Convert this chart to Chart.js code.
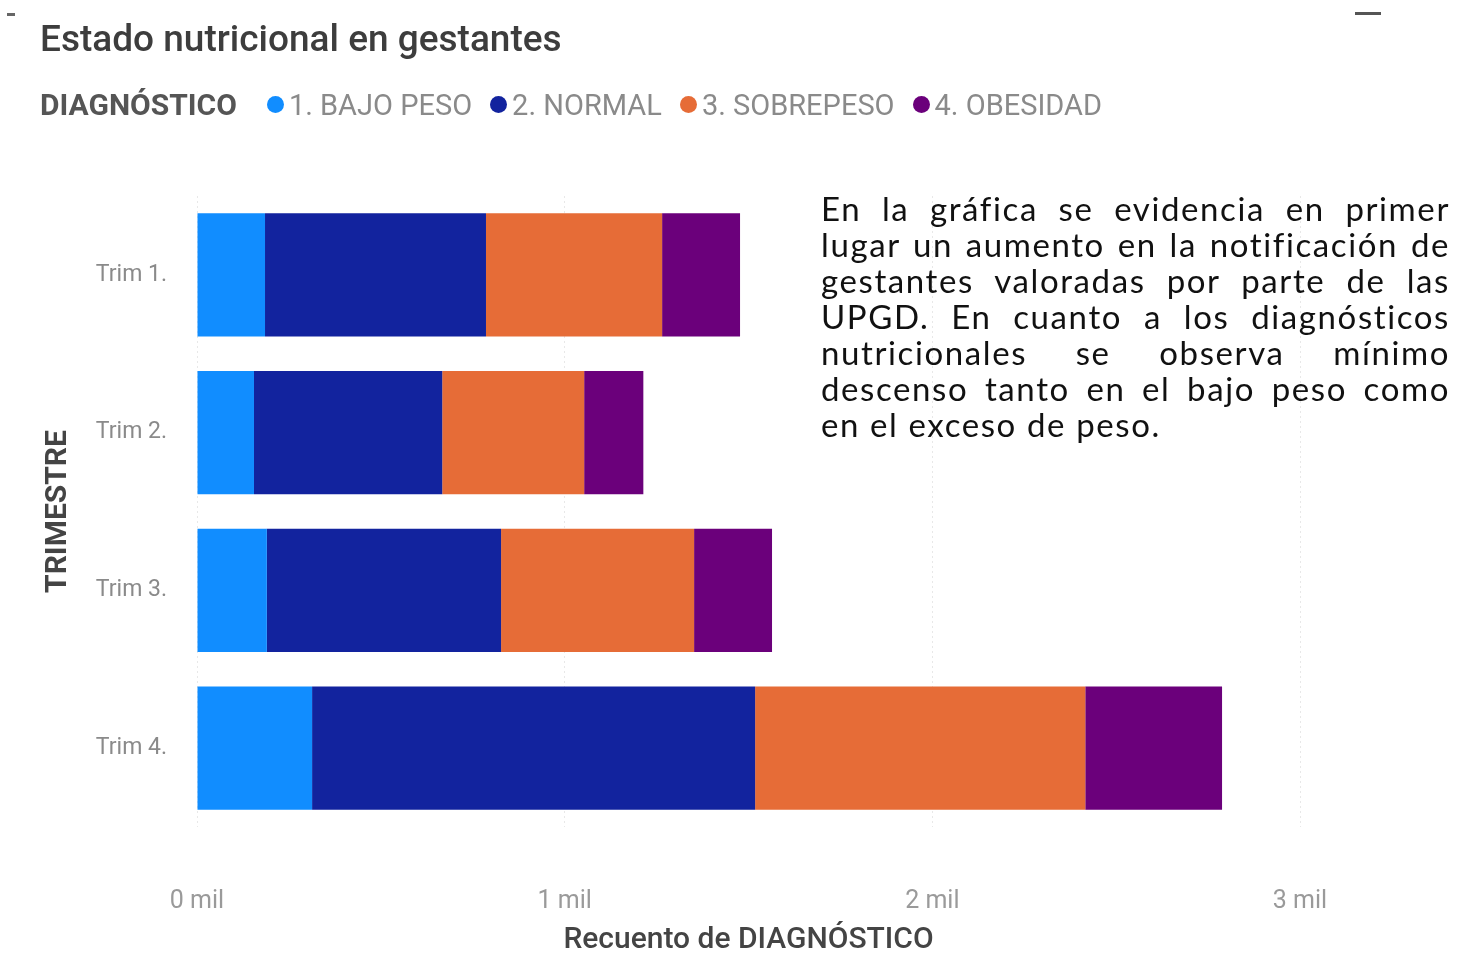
<!DOCTYPE html>
<html>
<head>
<meta charset="utf-8">
<script src="https://cdn.jsdelivr.net/npm/chart.js@4.4.1/dist/chart.umd.min.js"></script>
<style>
  html, body { margin: 0; padding: 0; background: #fff; }
  #page { position: relative; width: 1471px; height: 956px; overflow: hidden; }
  #wrap { position: absolute; left: 0; top: 0; width: 1471px; height: 956px; }
  #title { position: absolute; left: 40px; top: 17px; font-family: Roboto, sans-serif; font-weight: 500;
           font-size: 37px; color: #3d3d3d; white-space: nowrap; }
  #legend { position: absolute; left: 40px; top: 87px; font-family: Roboto, sans-serif; font-size: 29px;
            color: #8a8a8a; display: flex; align-items: center; white-space: nowrap; }
  #legend b { color: #555; font-weight: 700; margin-right: 30px; font-size: 30px; }
  #legend .item { display: flex; align-items: center; margin-right: 18px; }
  #legend .dot { width: 17px; height: 17px; border-radius: 50%; margin-right: 5px; }
  #note { position: absolute; left: 821px; top: 190px; width: 629px; font-family: Lato, sans-serif;
          font-size: 33px; letter-spacing: 1.6px; line-height: 36px; color: #111; }
  #note div { text-align: justify; text-align-last: justify; white-space: nowrap; }
  #note div.last { text-align-last: left; }
  .dash { position: absolute; height: 3px; background: #666; }
</style>
</head>
<body>
<div id="page">
  <div class="dash" style="left:7px; top:13px; width:8px;"></div>
  <div class="dash" style="left:1355px; top:12px; width:26px; background:#555;"></div>
  <div id="wrap"><canvas id="bars"></canvas></div>
  <div id="title">Estado nutricional en gestantes</div>
  <div id="legend"></div>
  <div id="note"></div>
</div>
<script>
const trimestres = ['Trim 1.', 'Trim 2.', 'Trim 3.', 'Trim 4.'];
const diagnosticos = ['1. BAJO PESO', '2. NORMAL', '3. SOBREPESO', '4. OBESIDAD'];
const colores = ['#118DFF', '#12239E', '#E66C37', '#6B007B'];

// recuento por diagnostico, un valor por trimestre
const bajoPeso = [185, 155, 190, 313];
const normal = [601, 512, 637, 1205];
const sobrepeso = [479, 386, 525, 898];
const obesidad = [212, 161, 212, 372];

const xTicks = [0, 1000, 2000, 3000];

const notaLineas = [
  'En la gráfica se evidencia en primer',
  'lugar un aumento en la notificación de',
  'gestantes valoradas por parte de las',
  'UPGD. En cuanto a los diagnósticos',
  'nutricionales se observa mínimo',
  'descenso tanto en el bajo peso como',
  'en el exceso de peso.'
];

const series = [bajoPeso, normal, sobrepeso, obesidad];

let legendHtml = '<b>DIAGNÓSTICO</b>';
diagnosticos.forEach((d, i) => {
  legendHtml += `<span class="item"><span class="dot" style="background:${colores[i]}"></span>${d}</span>`;
});
document.getElementById('legend').innerHTML = legendHtml;

document.getElementById('note').innerHTML = notaLineas
  .map((l, i) => `<div${i === notaLineas.length - 1 ? ' class="last"' : ''}>${l}</div>`)
  .join('');

const chart = new Chart(document.getElementById('bars'), {
  type: 'bar',
  data: {
    labels: trimestres,
    datasets: diagnosticos.map((d, i) => ({
      label: d,
      data: series[i],
      backgroundColor: colores[i],
      borderWidth: 0,
      barPercentage: 0.78,
      categoryPercentage: 1
    }))
  },
  options: {
    indexAxis: 'y',
    responsive: true,
    maintainAspectRatio: false,
    animation: false,
    layout: { padding: { left: 40, top: 196, right: 171, bottom: 0 } },
    plugins: { legend: { display: false }, tooltip: { enabled: false } },
    scales: {
      x: {
        stacked: true,
        min: 0,
        max: 3000,
        afterBuildTicks: (scale) => { scale.ticks = xTicks.map(v => ({ value: v })); },
        afterFit: (scale) => { scale.height = 129; },
        border: { display: false, dash: [2, 3] },
        grid: { color: '#e8e8e8', lineWidth: 1, drawTicks: false },
        ticks: {
          padding: 60,
          color: '#9a9a9a',
          font: { family: 'Roboto', size: 25 },
          callback: (v) => (v / 1000) + ' mil'
        },
        title: {
          display: true,
          text: 'Recuento de DIAGNÓSTICO',
          color: '#444',
          font: { family: 'Roboto', size: 30, weight: '500' },
          padding: { top: 0, bottom: -2 }
        }
      },
      y: {
        stacked: true,
        afterFit: (scale) => { scale.width = 157; },
        border: { display: false },
        grid: { display: false },
        ticks: {
          padding: 22,
          color: '#8a8a8a',
          font: { family: 'Roboto', size: 23 }
        },
        title: {
          display: true,
          text: 'TRIMESTRE',
          color: '#444',
          font: { family: 'Roboto', size: 30, weight: 'bold' },
          padding: { top: 0, bottom: 0 }
        }
      }
    }
  }
});
</script>
</body>
</html>
